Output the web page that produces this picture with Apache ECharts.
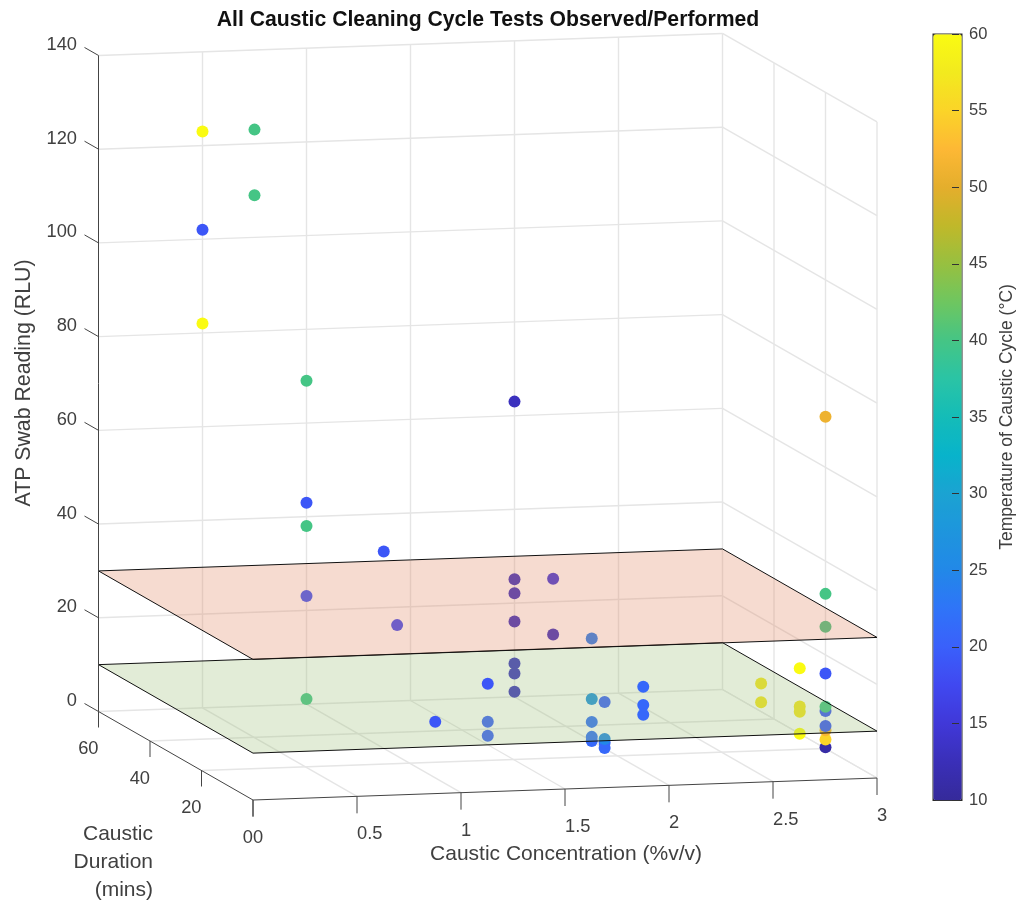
<!DOCTYPE html>
<html><head><meta charset="utf-8">
<style>html,body{margin:0;padding:0;background:#fff}#c{width:1017px;height:900px}</style>
<script src="https://cdn.jsdelivr.net/npm/echarts@6/dist/echarts.min.js"></script>
</head><body><div id="c"></div>
<script>
// ---- data ----
const conc = [0.5,0.75,0.75,0.5,0.5,1,2,3,1,1,1,1,2,2,2,2,1.25,2,2,3,3,1,2,2,2,1.5,1.5,1.5,1,2,2,2,2,2,2,2,2,2,2,2,3,3,3,3,3,3,3,3,3,3,3,3,3];
const dur  = [60,60,60,60,60,60,60,20,60,60,30,60,60,60,45,60,45,45,30,20,20,60,60,60,60,30,30,30,10,30,30,30,30,25,25,25,25,10,10,10,45,45,30,30,30,30,20,20,20,20,20,20,20];
const rlu  = [123,123,109,102,82,69,63,70.8,43,38,42,23.1,25.1,22.1,29.9,16.1,21.2,18,21.9,33,26,1.1,7.1,5,1.1,13,4.9,1.9,12,9,4.1,0,0.9,0.1,1.2,2,9.9,17.9,14,11.9,6,2,14,5.8,4.7,0,16,0.25,1.9,3.9,4.8,8,8.9];
const temp = [60,40,40,19,60,40,13,51,19,40,19,19,13,13,15,13,18,13,24,40,40,40,13,13,13,19,20,20,19,27,22,21,22,21,21,25,20,21,21,21,57,57,60,57,57,60,19,11,55,52,19,19,40];
const concTicks = [0,0.5,1,1.5,2,2.5,3];
const durTicks  = [0,20,40,60];
const rluTicks  = [0,20,40,60,80,100,120,140];
const planeLevels = [10,30];
const colorTicks = [10,60];
const parula = ['#352a9a','#3a2fb8','#4038d8','#4048f0','#3a60fb','#2f74f8','#2288e8','#1e95dd','#1ba3d2','#08b3cb','#14bcb8','#2ac4a5','#45c585','#6ec660','#97c040','#c0b82a','#e4ae2c','#fdb835','#fbd428','#f2ea1e','#fafb12'];

// ---- view projection of the 3D box onto the page plane ----
const FONT = '"Liberation Sans", Arial, sans-serif';
const TXT = '#404040';
function proj(c,d,z){ return [253+208*c-2.575*d, 800-7.33*c-1.475*d-4.686*z]; }
const seg = (a,b,dx,dy)=>{ const e = b||a; return [a[0],a[1],e[0]+(dx||0),e[1]+(dy||0)]; };

const gridSegs=[];
rluTicks.forEach(z=>{ gridSegs.push(seg(proj(0,60,z),proj(3,60,z))); gridSegs.push(seg(proj(3,60,z),proj(3,0,z))); });
concTicks.slice(1).forEach(c=>{ gridSegs.push(seg(proj(c,60,0),proj(c,60,140))); gridSegs.push(seg(proj(c,60,0),proj(c,0,0))); });
durTicks.slice(0,3).forEach(d=>{ gridSegs.push(seg(proj(3,d,0),proj(3,d,140))); if(d>0) gridSegs.push(seg(proj(0,d,0),proj(3,d,0))); });

const axisSegs=[ seg(proj(0,60,0),proj(0,60,140)), seg(proj(0,60,0),proj(0,0,0)), seg(proj(0,0,0),proj(3,0,0)) ];
rluTicks.forEach(z=>axisSegs.push(seg(proj(0,60,z),proj(0,60,z),-14,-8)));
durTicks.forEach(d=>axisSegs.push(seg(proj(0,d,0),proj(0,d,0),0,16)));
concTicks.forEach(c=>axisSegs.push(seg(proj(c,0,0),proj(c,0,0),0,17)));

const tickLabels=[];
rluTicks.forEach(z=>{const p=proj(0,60,z);tickLabels.push({p:[p[0]-21.5,p[1]-10.5],t:String(z),a:'right'});});
durTicks.forEach(d=>{const p=proj(0,d,0);tickLabels.push({p:[p[0],p[1]+37.5],t:String(d),a:'right'});});
concTicks.forEach(c=>{const p=proj(c,0,0);tickLabels.push({p:[p[0],p[1]+38],t:String(c),a:'left'});});

function ptSeries(lo,hi,z){
  const out=[];
  conc.forEach((c,i)=>{ if(rlu[i]>=lo&&rlu[i]<hi){ const p=proj(c,dur[i],rlu[i]); out.push([p[0],p[1],temp[i]]); }});
  return {type:'scatter',xAxisIndex:0,yAxisIndex:0,symbolSize:12,z,silent:true,itemStyle:{opacity:1},data:out};
}
function lineSeries(data,color,width,z){
  return {type:'custom',xAxisIndex:0,yAxisIndex:0,z,silent:true,data,
    renderItem:(ps,api)=>{const a=api.coord([api.value(0),api.value(1)]),b=api.coord([api.value(2),api.value(3)]);
      return {type:'line',shape:{x1:a[0],y1:a[1],x2:b[0],y2:b[1]},style:{stroke:color,lineWidth:width}};}};
}
function planeSeries(level,fill,z){
  const crn=[proj(0,60,level),proj(3,60,level),proj(3,0,level),proj(0,0,level)];
  return {type:'custom',xAxisIndex:0,yAxisIndex:0,z,silent:true,data:[crn.flat()],
    renderItem:(ps,api)=>{const pts=[0,1,2,3].map(i=>api.coord([api.value(2*i),api.value(2*i+1)]));
      return {type:'polygon',shape:{points:pts},style:{fill,stroke:'#111',lineWidth:1}};}};
}
const labelSeries={type:'custom',xAxisIndex:0,yAxisIndex:0,z:9,silent:true,
  data:tickLabels.map(l=>l.p),
  renderItem:(ps,api)=>{const a=api.coord([api.value(0),api.value(1)]),l=tickLabels[ps.dataIndex];
    return {type:'text',style:{text:l.t,x:a[0],y:a[1],align:l.a,verticalAlign:'middle',fill:TXT,font:'18.3px '+FONT}};}};

const series=[
  lineSeries(gridSegs,'#e5e5e5',1.4,1),
  ptSeries(-1,planeLevels[0],2),
  planeSeries(planeLevels[0],'rgba(158,192,122,0.3)',3),
  ptSeries(planeLevels[0],planeLevels[1],4),
  planeSeries(planeLevels[1],'rgba(225,135,98,0.3)',5),
  ptSeries(planeLevels[1],1e9,6),
  lineSeries(axisSegs,'#444444',1,7),
  labelSeries
];

const chart=echarts.init(document.getElementById('c'),null,{renderer:'canvas'});
chart.setOption({
  animation:false,backgroundColor:'#fff',
  title:{text:'All Caustic Cleaning Cycle Tests Observed/Performed',left:483,top:5,textAlign:'center',
    textStyle:{fontFamily:FONT,fontSize:21.2,fontWeight:'bold',color:'#111'}},
  grid:[{left:0,top:0,width:1017,height:900},{left:933,top:34,width:28.5,height:766}],
  xAxis:[{type:'value',min:0,max:1017,show:false,gridIndex:0},{type:'value',gridIndex:1,min:0,max:1,show:false}],
  yAxis:[{type:'value',min:0,max:900,inverse:true,show:false,gridIndex:0},
    {type:'value',gridIndex:1,min:colorTicks[0],max:colorTicks[1],interval:5,position:'right',z:10,
     axisLine:{show:false,onZero:false},axisTick:{show:true,inside:true,length:7,lineStyle:{color:'#333'}},splitLine:{show:false},
     axisLabel:{margin:10,color:TXT,fontFamily:FONT,fontSize:16.5},
     name:'Temperature of Caustic Cycle (°C)',nameLocation:'middle',nameRotate:90,nameGap:39,
     nameTextStyle:{color:TXT,fontFamily:FONT,fontSize:17.5}}],
  visualMap:{type:'continuous',min:colorTicks[0],max:colorTicks[1],dimension:2,seriesIndex:[1,3,5],
    inRange:{color:parula},calculable:false,realtime:false,orient:'vertical',
    left:932.5,top:33.5,itemWidth:28.5,itemHeight:766,padding:0,borderColor:'#2b2b2b',borderWidth:1.5,text:null,hoverLink:false},
  graphic:[
    {type:'text',x:566,y:854.5,z:20,style:{text:'Caustic Concentration (%v/v)',align:'center',verticalAlign:'middle',fill:TXT,font:'21px '+FONT}},
    {type:'text',x:24,y:383,rotation:Math.PI/2,z:20,style:{text:'ATP Swab Reading (RLU)',align:'center',verticalAlign:'middle',fill:TXT,font:'21.3px '+FONT}},
    {type:'text',x:153,y:834,z:20,style:{text:'Caustic',align:'right',verticalAlign:'middle',fill:TXT,font:'21px '+FONT}},
    {type:'text',x:153,y:862.5,z:20,style:{text:'Duration',align:'right',verticalAlign:'middle',fill:TXT,font:'21px '+FONT}},
    {type:'text',x:153,y:890,z:20,style:{text:'(mins)',align:'right',verticalAlign:'middle',fill:TXT,font:'21px '+FONT}}
  ],
  series
});
</script></body></html>
